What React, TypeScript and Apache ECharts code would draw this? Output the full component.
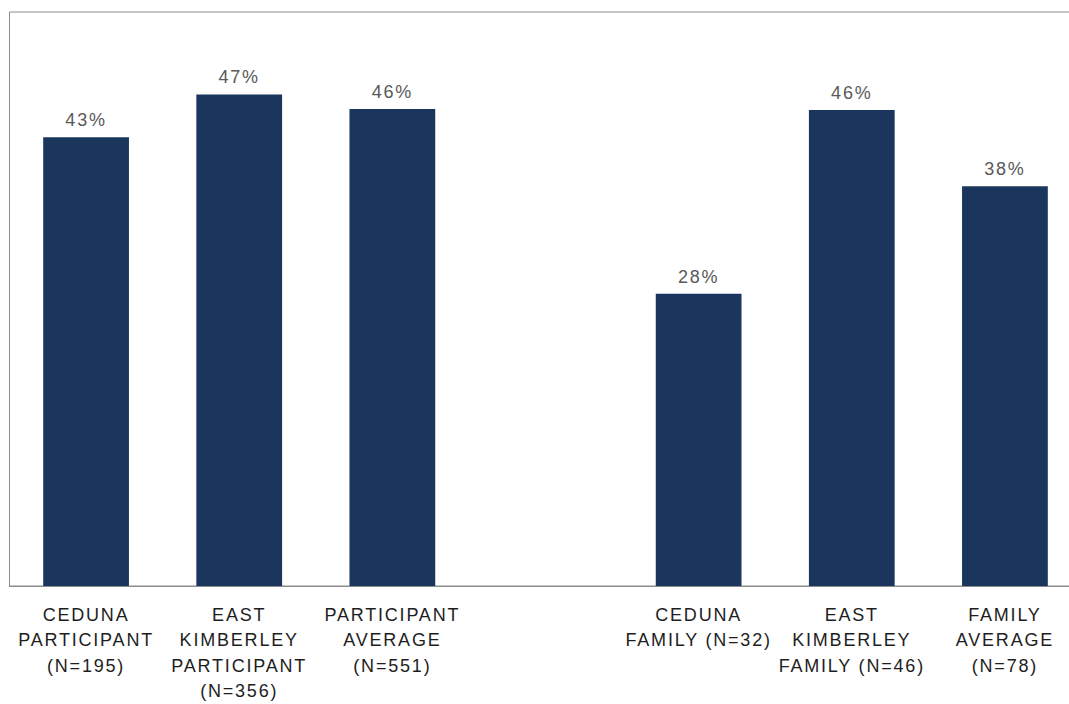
import React, { useEffect, useRef } from "react";
import * as echarts from "echarts";

const categories = [
  "CEDUNA\nPARTICIPANT\n(N=195)",
  "EAST\nKIMBERLEY\nPARTICIPANT\n(N=356)",
  "PARTICIPANT\nAVERAGE\n(N=551)",
  "",
  "CEDUNA\nFAMILY (N=32)",
  "EAST\nKIMBERLEY\nFAMILY (N=46)",
  "FAMILY\nAVERAGE\n(N=78)",
];
const values: (number | null)[] = [43.0, 47.1, 45.7, null, 28.0, 45.6, 38.3];

export default function App() {
  const ref = useRef<HTMLDivElement>(null);
  useEffect(() => {
    if (!ref.current) return;
    const chart = echarts.init(ref.current, null, { renderer: "svg" });
    chart.setOption({
      animation: false,
      grid: {
        left: 9.5,
        right: 0.5,
        top: 12,
        bottom: 114,
        show: true,
        borderColor: "#8c8c8c",
        borderWidth: 1,
        backgroundColor: "transparent",
      },
      xAxis: {
        type: "category",
        data: categories,
        axisTick: { show: false },
        axisLine: { show: true, lineStyle: { color: "#8c8c8c", width: 1 } },
        axisLabel: {
          interval: 0,
          margin: 16,
          fontFamily: "Liberation Sans",
          fontSize: 18,
          lineHeight: 25.5,
          color: "#1e1e1e",
        },
      },
      yAxis: {
        type: "value",
        min: 0,
        max: 55,
        show: false,
        splitLine: { show: false },
      },
      series: [
        {
          type: "bar",
          data: values,
          barWidth: "56%",
          itemStyle: { color: "#1b365d" },
          label: {
            show: true,
            position: "top",
            distance: 8,
            formatter: (p: any) => Math.round(p.value) + "%",
            fontFamily: "Liberation Sans",
            fontSize: 18,
            color: "#595959",
          },
        },
      ],
    });
    return () => chart.dispose();
  }, []);
  return (
    <div
      style={{
        position: "fixed",
        left: 0,
        top: 0,
        width: 1069,
        height: 704,
        overflow: "hidden",
        background: "#fff",
      }}
    >
      <div ref={ref} style={{ width: 1082, height: 704, letterSpacing: "1.8px" }} />
    </div>
  );
}
